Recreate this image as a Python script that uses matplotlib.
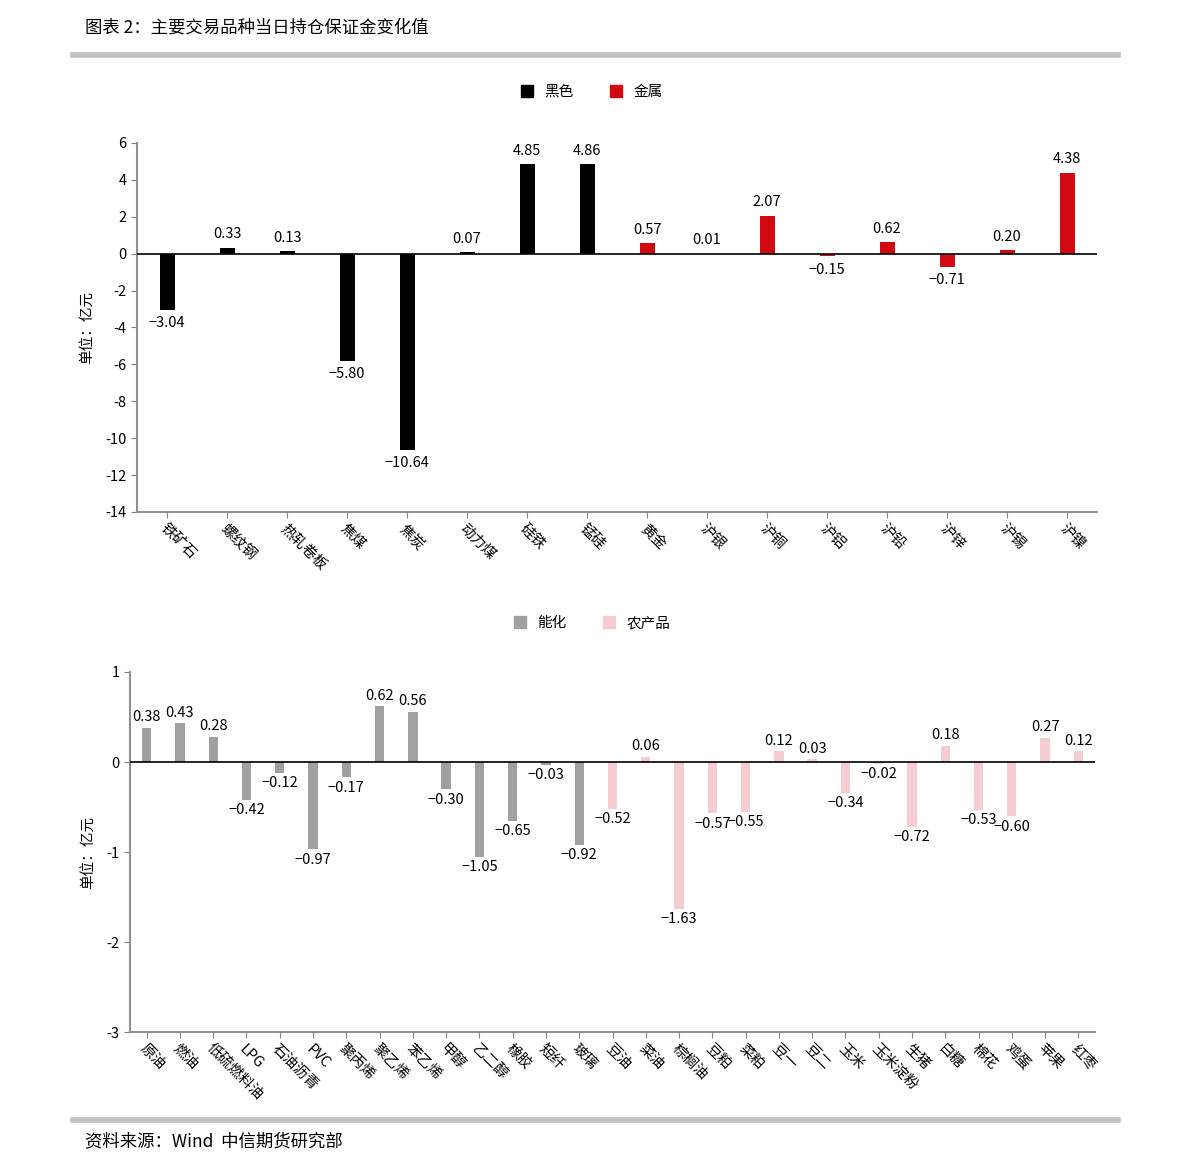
import matplotlib
matplotlib.use("Agg")
import matplotlib.pyplot as plt
import numpy as np
from matplotlib.patches import Patch

plt.rcParams['font.family'] = ['Noto Sans CJK SC', 'DejaVu Sans']
plt.rcParams['axes.unicode_minus'] = False

# top chart data
black_names = ['铁矿石', '螺纹钢', '热轧卷板', '焦煤', '焦炭', '动力煤', '硅铁', '锰硅']
black_vals = [-3.04, 0.33, 0.13, -5.80, -10.64, 0.07, 4.85, 4.86]
metal_names = ['黄金', '沪银', '沪铜', '沪铝', '沪铅', '沪锌', '沪锡', '沪镍']
metal_vals = [0.57, 0.01, 2.07, -0.15, 0.62, -0.71, 0.20, 4.38]

# bottom chart data
energy_names = ['原油', '燃油', '低硫燃料油', 'LPG', '石油沥青', 'PVC', '聚丙烯', '聚乙烯',
                '苯乙烯', '甲醇', '乙二醇', '橡胶', '短纤', '玻璃']
energy_vals = [0.38, 0.43, 0.28, -0.42, -0.12, -0.97, -0.17, 0.62,
               0.56, -0.30, -1.05, -0.65, -0.03, -0.92]
agri_names = ['豆油', '菜油', '棕榈油', '豆粕', '菜粕', '豆一', '豆二', '玉米', '玉米淀粉',
              '生猪', '白糖', '棉花', '鸡蛋', '苹果', '红枣']
agri_vals = [-0.52, 0.06, -1.63, -0.57, -0.55, 0.12, 0.03, -0.34, -0.02,
             -0.72, 0.18, -0.53, -0.60, 0.27, 0.12]

W, H = 1191, 1171
fig = plt.figure(figsize=(W / 100, H / 100), dpi=100)

def fx(px):
    return px / W

def fy(py):
    return 1 - py / H

# header / footer
fig.text(fx(85), fy(28), '图表 2：主要交易品种当日持仓保证金变化值', fontsize=12.5, va='center', ha='left')
fig.add_artist(plt.Line2D([fx(73), fx(1118)], [fy(55), fy(55)], color='#c0c0c0', lw=4))
fig.add_artist(plt.Line2D([fx(73), fx(1118)], [fy(1120), fy(1120)], color='#c0c0c0', lw=4))
fig.text(fx(85), fy(1141), '资料来源：Wind  中信期货研究部', fontsize=12.5, va='center', ha='left')


def draw(ax, names1, vals1, c1, names2, vals2, c2, width, ylim, yticks, offset, lab1, lab2, leg_y):
    names = names1 + names2
    vals = vals1 + vals2
    x = np.arange(len(names))
    colors = [c1] * len(names1) + [c2] * len(names2)
    ax.bar(x, vals, width=width, color=colors, zorder=2)
    ax.axhline(0, color='black', lw=1.2, zorder=3)
    ax.set_xlim(-0.5, len(names) - 0.5)
    ax.set_ylim(*ylim)
    ax.set_yticks(yticks)
    ax.set_xticks(x)
    ax.set_xticklabels(names, rotation=-45, ha='left', va='top', rotation_mode='anchor', fontsize=10.5)
    ax.tick_params(axis='x', pad=3)
    ax.tick_params(axis='y', labelsize=10.5)
    ax.tick_params(color='#808080', length=4)
    for s in ['top', 'right']:
        ax.spines[s].set_visible(False)
    for s in ['left', 'bottom']:
        ax.spines[s].set_color('#909090')
        ax.spines[s].set_linewidth(1.5)
    ax.set_ylabel('单位：亿元', fontsize=10.5, labelpad=8)
    for xi, v in zip(x, vals):
        if v >= 0:
            ax.text(xi, v + offset, f'{v:.2f}', ha='center', va='bottom', fontsize=10.5)
        else:
            ax.text(xi, v - offset, f'{v:.2f}'.replace('-', '−'), ha='center', va='top', fontsize=10.5)
    handles = [Patch(color=c1, label=lab1), Patch(color=c2, label=lab2)]
    fig.legend(handles=handles, loc='center', bbox_to_anchor=(fx(592), fy(leg_y)), ncol=2,
               frameon=False, fontsize=10.5, handlelength=0.8, handleheight=0.8,
               columnspacing=2.5, handletextpad=0.8)


ax1 = fig.add_axes([fx(137), fy(512), fx(1097) - fx(137), fy(143) - fy(512)])
draw(ax1, black_names, black_vals, '#000000', metal_names, metal_vals, '#d10a11',
     0.25, (-14, 6), range(-14, 7, 2), 0.35, '黑色', '金属', 92)

ax2 = fig.add_axes([fx(130), fy(1032), fx(1095) - fx(130), fy(672) - fy(1032)])
draw(ax2, energy_names, energy_vals, '#a0a0a0', agri_names, agri_vals, '#f5cdd0',
     0.28, (-3, 1), range(-3, 2), 0.04, '能化', '农产品', 623)

fig.savefig('out.png', dpi=100)
